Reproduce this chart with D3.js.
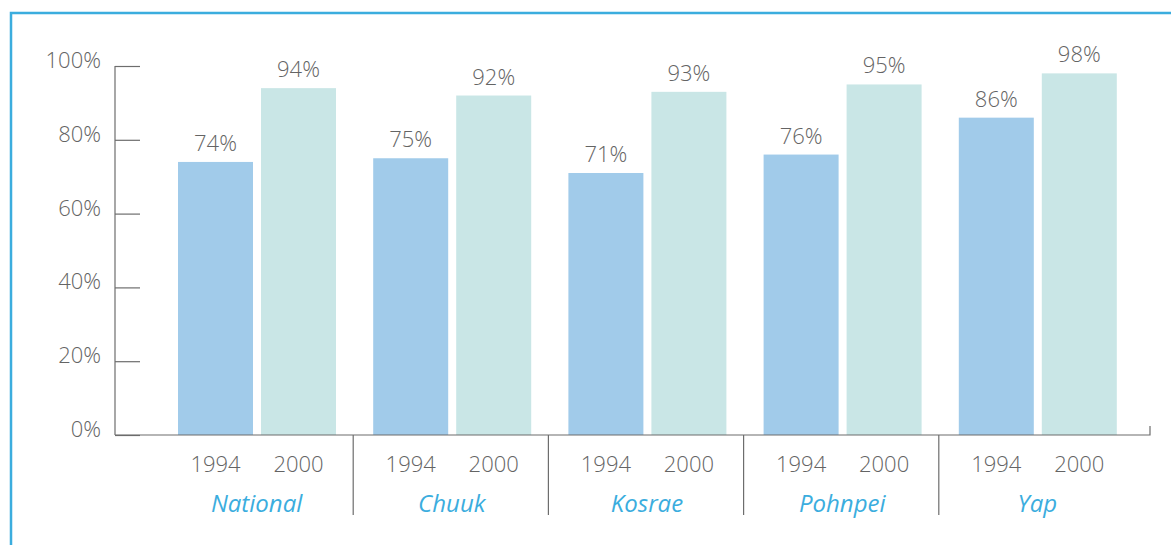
<!DOCTYPE html>
<html>
<head>
<meta charset="utf-8">
<script src="https://cdn.jsdelivr.net/npm/d3@7"></script>
<style>
  body { margin: 0; background: #fff; }
  svg text { font-family: "Open Sans", "DejaVu Sans", sans-serif; }
</style>
</head>
<body>
<div id="chart"></div>
<script>
// data
const regions = ['National', 'Chuuk', 'Kosrae', 'Pohnpei', 'Yap'];
const years = ['1994', '2000'];
const values1994 = [74, 75, 71, 76, 86];
const values2000 = [94, 92, 93, 95, 98];
const yTicks = [0, 20, 40, 60, 80, 100];

const width = 1171, height = 545;
const frameColor = '#3badde';
const axisColor = '#6d6d6d';
const textColor = '#646464';
const colors = {'1994': '#a1cbea', '2000': '#c9e6e6'};

const svg = d3.select('#chart').append('svg')
  .attr('width', width)
  .attr('height', height);

// outer frame (top + left)
svg.append('path')
  .attr('d', `M${width},13 H11 V${height}`)
  .attr('fill', 'none')
  .attr('stroke', frameColor)
  .attr('stroke-width', 2.5);

const yScale = d3.scaleLinear().domain([0, 100]).range([435, 66]);
const xScale = d3.scaleBand().domain(regions).range([158, 1134]).paddingInner(0);
// two bars of ~75px with an 8px gap inside each group
const xInner = d3.scaleBand().domain(years).range([20, 178]).paddingInner(0.0964);

// y axis
const yAxis = d3.axisRight(yScale)
  .tickValues(yTicks)
  .tickSize(25)
  .tickFormat(d => '');
const yAxisG = svg.append('g')
  .attr('transform', 'translate(115,0)')
  .call(yAxis);
yAxisG.select('.domain').remove();
yAxisG.selectAll('line').attr('stroke', axisColor).attr('stroke-width', 1.2);
svg.append('line')
  .attr('x1', 115).attr('x2', 115)
  .attr('y1', yScale(100)).attr('y2', yScale(0))
  .attr('stroke', axisColor).attr('stroke-width', 1.2);

svg.selectAll('.ytick-label')
  .data(yTicks)
  .join('text')
  .attr('class', 'ytick-label')
  .attr('x', 101)
  .attr('y', d => yScale(d) + 2)
  .attr('text-anchor', 'end')
  .attr('fill', textColor)
  .style('font-size', '22px')
  .style('font-weight', 300)
  .text(d => d + '%');

// bars
const rows = regions.map((r, i) => ({region: r, values: [
  {year: '1994', value: values1994[i]},
  {year: '2000', value: values2000[i]}
]}));

const groups = svg.selectAll('.group')
  .data(rows)
  .join('g')
  .attr('class', 'group')
  .attr('transform', d => `translate(${xScale(d.region)},0)`);

groups.selectAll('rect')
  .data(d => d.values)
  .join('rect')
  .attr('x', d => xInner(d.year))
  .attr('width', xInner.bandwidth())
  .attr('y', d => yScale(d.value))
  .attr('height', d => yScale(0) - yScale(d.value))
  .attr('fill', d => colors[d.year]);

groups.selectAll('.value-label')
  .data(d => d.values)
  .join('text')
  .attr('class', 'value-label')
  .attr('x', d => xInner(d.year) + xInner.bandwidth() / 2)
  .attr('y', d => yScale(d.value) - 11)
  .attr('text-anchor', 'middle')
  .attr('fill', textColor)
  .style('font-size', '22px')
  .style('font-weight', 300)
  .text(d => d.value + '%');

groups.selectAll('.year-label')
  .data(d => d.values)
  .join('text')
  .attr('class', 'year-label')
  .attr('x', d => xInner(d.year) + xInner.bandwidth() / 2)
  .attr('y', 472)
  .attr('text-anchor', 'middle')
  .attr('fill', textColor)
  .style('font-size', '22px')
  .style('font-weight', 300)
  .text(d => d.year);

groups.append('text')
  .attr('x', xScale.bandwidth() / 2 + 1)
  .attr('y', 512)
  .attr('text-anchor', 'middle')
  .attr('fill', frameColor)
  .style('font-size', '24px')
  .style('font-style', 'italic')
  .text(d => d.region);

// x baseline and group separators
svg.append('path')
  .attr('d', `M115,${yScale(0)} H1150 V${yScale(0) - 9}`)
  .attr('fill', 'none')
  .attr('stroke', axisColor)
  .attr('stroke-width', 1.2);

svg.selectAll('.sep')
  .data(regions.slice(1))
  .join('line')
  .attr('class', 'sep')
  .attr('x1', d => xScale(d)).attr('x2', d => xScale(d))
  .attr('y1', yScale(0)).attr('y2', 515)
  .attr('stroke', axisColor)
  .attr('stroke-width', 1.2);
</script>
</body>
</html>
